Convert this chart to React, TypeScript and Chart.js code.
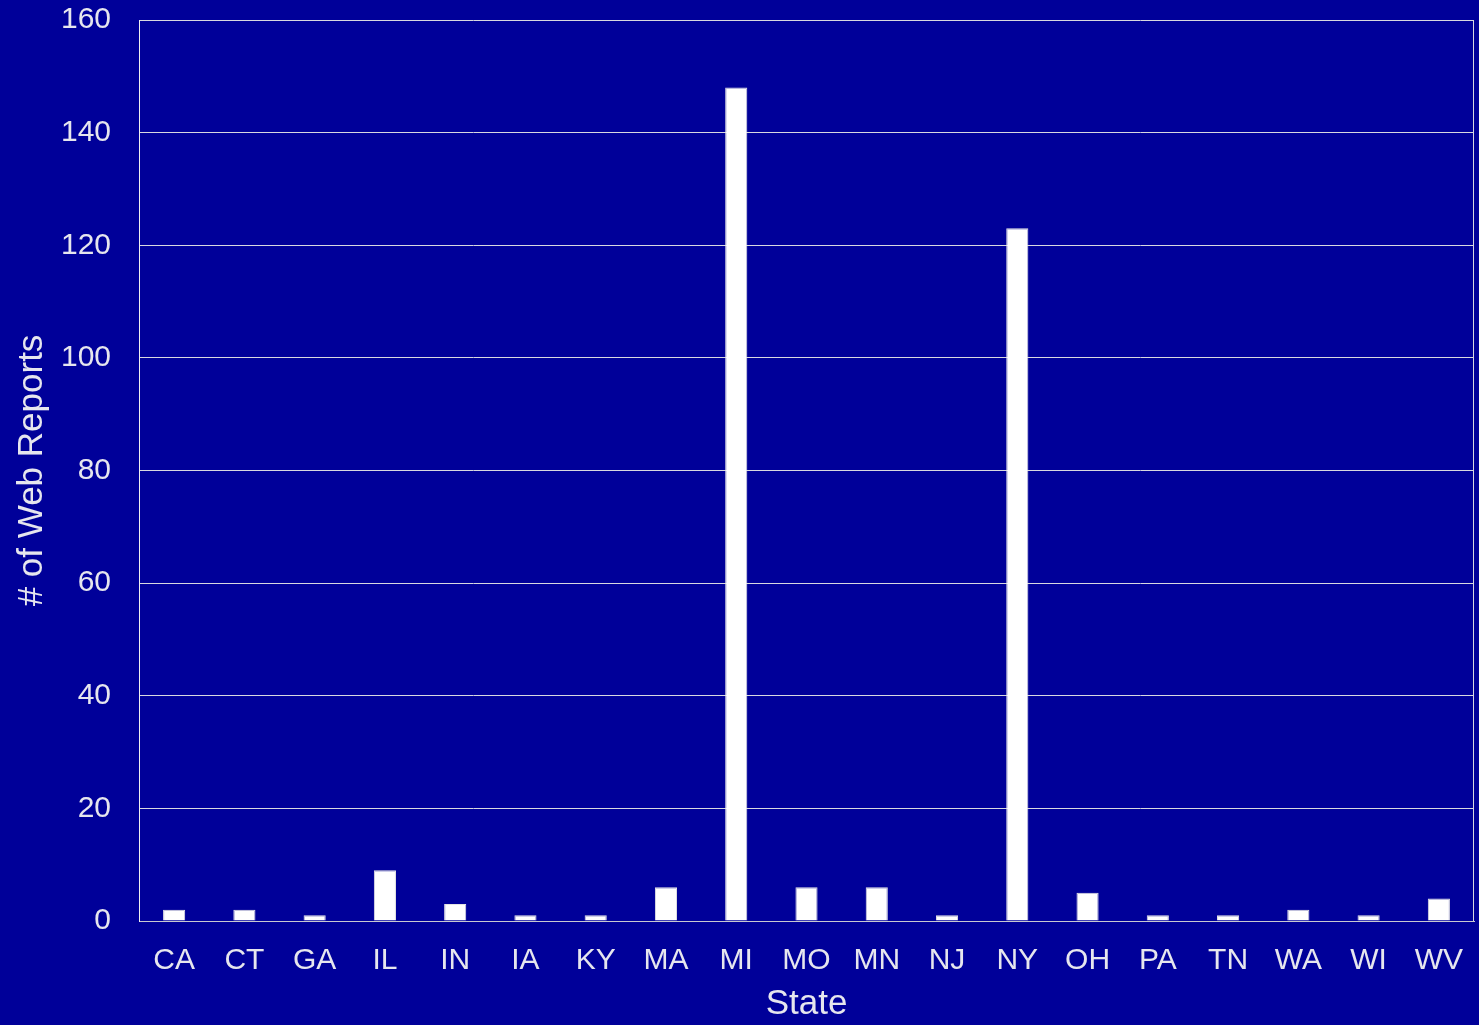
import React, { useEffect, useRef } from "react";
import { Chart, registerables } from "chart.js";

Chart.register(...registerables);

const states = ["CA", "CT", "GA", "IL", "IN", "IA", "KY", "MA", "MI", "MO", "MN", "NJ", "NY", "OH", "PA", "TN", "WA", "WI", "WV"];
const webReports = [2, 2, 1, 9, 3, 1, 1, 6, 148, 6, 6, 1, 123, 5, 1, 1, 2, 1, 4];
const yTicks = [0, 20, 40, 60, 80, 100, 120, 140, 160];

const BG = "#000099";
const TEXT = "#e6e6ee";
const FONT = "'Liberation Sans', Arial, sans-serif";

const frame = {
  id: "frame",
  afterDraw(chart: any) {
    const { ctx, chartArea } = chart;
    ctx.save();
    ctx.strokeStyle = "#d8d8e0";
    ctx.lineWidth = 1;
    ctx.beginPath();
    ctx.moveTo(Math.round(chartArea.right) - 0.5, chartArea.top);
    ctx.lineTo(Math.round(chartArea.right) - 0.5, chartArea.bottom);
    ctx.stroke();
    ctx.restore();
  },
};

export default function App() {
  const ref = useRef<HTMLCanvasElement | null>(null);
  useEffect(() => {
    document.body.style.margin = "0";
    document.body.style.background = BG;
    const chart = new Chart(ref.current as HTMLCanvasElement, {
      type: "bar",
      data: {
        labels: states,
        datasets: [
          {
            data: webReports,
            backgroundColor: "#ffffff",
            borderColor: "#e4e4e4",
            borderWidth: 1,
            barPercentage: 0.315,
            categoryPercentage: 1,
          },
        ],
      },
      options: {
        animation: false,
        responsive: false,
        maintainAspectRatio: false,
        layout: { padding: { top: 20, right: 5, left: 0, bottom: 0 } },
        plugins: { legend: { display: false }, tooltip: { enabled: false } },
        scales: {
          x: {
            afterFit: (s: any) => {
              s.height = 104;
              s.paddingLeft = 0;
              s.paddingRight = 0;
            },
            grid: { display: false, drawTicks: false },
            border: { display: true, color: "#c8c8d0", width: 1 },
            ticks: { color: TEXT, font: { family: FONT, size: 30 }, padding: 22, maxRotation: 0, autoSkip: false },
            title: { display: true, text: "State", color: TEXT, font: { family: FONT, size: 35 }, padding: { top: 0, bottom: 0 } },
          },
          y: {
            min: 0,
            max: 160,
            afterFit: (s: any) => {
              s.width = 139;
              s.paddingTop = 0;
              s.paddingBottom = 0;
            },
            afterBuildTicks: (s: any) => {
              s.ticks = yTicks.map((v) => ({ value: v }));
            },
            grid: { color: "#d8d8e0", lineWidth: 1, drawTicks: false },
            border: { display: true, color: "#f0f0f0", width: 1 },
            ticks: { color: TEXT, font: { family: FONT, size: 30 }, padding: 28 },
            title: { display: true, text: "# of Web Reports", color: TEXT, font: { family: FONT, size: 35 }, padding: { top: 11, bottom: 0 } },
          },
        },
      },
      plugins: [frame],
    });
    return () => chart.destroy();
  }, []);
  return (
    <div style={{ width: 1479, height: 1025, background: BG }}>
      <canvas ref={ref} width={1479} height={1025} style={{ display: "block", width: 1479, height: 1025 }} />
    </div>
  );
}
